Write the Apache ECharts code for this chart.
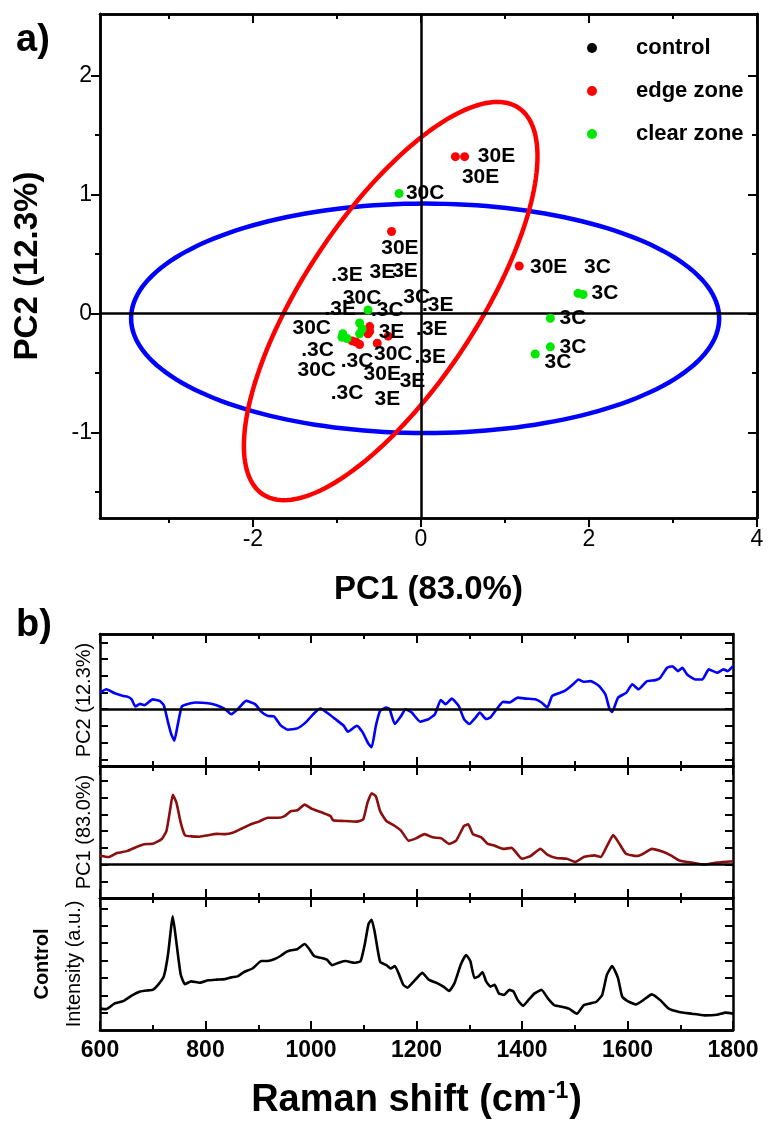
<!DOCTYPE html>
<html>
<head>
<meta charset="utf-8">
<script src="https://cdn.jsdelivr.net/npm/echarts@6/dist/echarts.min.js"></script>
<style>
  html, body { margin: 0; padding: 0; background: #fff; }
  #main { width: 768px; height: 1135px; }
</style>
</head>
<body>
<div id="main"></div>
<script>
// ---- a) PCA scores ----
var pcaRangeX = [-3.82, 4.0];
var pcaRangeY = [-1.72, 2.52];
var pcaTicksX = [-2, 0, 2, 4];
var pcaMinorX = [-3, -1, 1, 3];
var pcaTicksY = [-1, 0, 1, 2];
var pcaMinorY = [-1.5, -0.5, 0.5, 1.5];

var controlPts = [];
var edgeZone = [[0.41, 1.32], [0.52, 1.32], [-0.35, 0.69], [1.17, 0.40], [-0.61, -0.11], [-0.61, -0.15],
  [-0.39, -0.19], [-0.52, -0.25], [-0.82, -0.23], [-0.77, -0.24], [-0.73, -0.26], [-0.63, -0.17]];
var clearZone = [[-0.26, 1.01], [1.87, 0.17], [1.93, 0.16], [1.54, -0.04], [1.54, -0.28], [1.36, -0.34],
  [-0.63, 0.03], [-0.73, -0.08], [-0.70, -0.13], [-0.93, -0.17], [-0.94, -0.20], [-0.88, -0.21], [-0.73, -0.17]];

// sample labels: [pc1, pc2, text]
var pointLabels = [
  [0.90, 1.32, '30E'], [0.71, 1.15, '30E'], [0.05, 1.01, '30C'], [-0.25, 0.55, '30E'], [1.52, 0.39, '30E'],
  [2.10, 0.39, '3C'], [2.19, 0.17, '3C'], [1.81, -0.04, '3C'], [1.81, -0.28, '3C'], [1.63, -0.41, '3C'],
  [-0.88, 0.32, '.3E'], [-0.46, 0.35, '3E'], [-0.19, 0.36, '3E'], [-0.70, 0.13, '30C'], [-0.05, 0.135, '3C'],
  [0.20, 0.07, '.3E'], [-0.96, 0.04, '.3E'], [-0.40, 0.03, '.3C'], [-1.30, -0.12, '30C'], [-0.35, -0.16, '3E'],
  [0.13, -0.13, '.3E'], [-1.23, -0.31, '.3C'], [-0.76, -0.40, '.3C'], [-0.33, -0.34, '30C'], [0.11, -0.37, '.3E'],
  [-1.24, -0.48, '30C'], [-0.46, -0.51, '30E'], [-0.10, -0.57, '3E'], [-0.88, -0.67, '.3C'], [-0.40, -0.72, '3E']
];

// confidence ellipses: [cx, cy, ux, uy, vx, vy] (centre + two conjugate semi-diameters)
var blueEllipse = [0.05, -0.04, 3.5, 0, 0, 0.965];
var redEllipse = [-0.36, 0.105, 1.2, 0, 1.27, 1.675];

// ---- b) loadings and control spectrum (Raman shift, arbitrary units) ----
var ramanRange = [600, 1800];
var ramanTicks = [600, 800, 1000, 1200, 1400, 1600, 1800];
var ramanMinor = [700, 900, 1100, 1300, 1500, 1700];

var pc2Loading = [[600, 0.99], [612, 1.19], [628, 0.95], [644, 0.79], [652, 0.75], [660, 0.59], [667, 0.16],
  [676, 0.32], [684, 0.24], [700, 0.59], [713, 0.5], [721, 0.24], [729, -0.79], [735, -1.49], [741, -1.88],
  [747, -0.99], [755, 0.16], [765, 0.30], [781, 0.40], [805, 0.36], [821, 0.24], [837, 0], [849, -0.30],
  [861, 0], [877, 0.5], [894, 0.30], [906, -0.16], [918, -0.40], [930, -0.44], [942, -0.95], [956, -1.23],
  [974, -1.15], [990, -0.79], [1006, -0.24], [1018, 0.04], [1030, -0.20], [1046, -0.59], [1062, -0.99],
  [1070, -1.35], [1087, -0.99], [1098, -1.39], [1109, -2.08], [1115, -2.28], [1123, -0.99], [1131, -0.1],
  [1143, 0.1], [1149, 0], [1159, -0.89], [1171, -0.40], [1179, 0], [1191, -0.2], [1207, -0.75], [1223, -0.59],
  [1235, -0.30], [1246, 0.55], [1255, 0.30], [1267, 0.63], [1280, 0.20], [1290, -0.59], [1300, -0.89],
  [1312, -0.50], [1320, -0.20], [1332, -0.59], [1340, -0.5], [1352, 0], [1364, 0.44], [1376, 0.40],
  [1392, 0.69], [1409, 0.63], [1425, 0.59], [1437, 0.40], [1448, 0.1], [1457, 0.79], [1469, 0.95],
  [1481, 1.09], [1497, 1.49], [1507, 1.78], [1517, 1.64], [1530, 1.68], [1546, 1.39], [1558, 0.89],
  [1566, 0], [1571, -0.16], [1582, 0.69], [1598, 0.99], [1609, 1.49], [1621, 1.19], [1637, 1.68],
  [1653, 1.74], [1662, 1.88], [1675, 2.48], [1685, 2.57], [1696, 2.28], [1704, 2.48], [1713, 2.08],
  [1729, 1.78], [1742, 1.78], [1754, 2.38], [1770, 2.18], [1782, 2.38], [1790, 2.28], [1800, 2.57]];

var pc1Loading = [[600, 0.55], [616, 0.45], [632, 0.69], [652, 0.82], [668, 1.04], [684, 1.22], [700, 1.24],
  [717, 1.53], [726, 2.02], [733, 3.29], [738, 4.18], [745, 3.69], [753, 2.51], [761, 1.76], [773, 1.69],
  [789, 1.67], [805, 1.76], [821, 1.84], [837, 1.82], [853, 1.92], [869, 2.16], [886, 2.41], [901, 2.57],
  [918, 2.80], [938, 2.80], [950, 2.90], [962, 3.20], [974, 3.25], [988, 3.59], [1002, 3.33], [1022, 3.10],
  [1037, 2.90], [1042, 2.65], [1062, 2.61], [1087, 2.57], [1099, 2.71], [1107, 3.69], [1115, 4.27],
  [1123, 4.08], [1131, 3.20], [1143, 2.61], [1159, 2.31], [1171, 2.02], [1185, 1.43], [1199, 1.57],
  [1215, 1.82], [1231, 1.63], [1247, 1.57], [1262, 1.24], [1275, 1.43], [1290, 2.31], [1298, 2.41],
  [1307, 1.82], [1323, 1.63], [1335, 1.24], [1347, 1.14], [1364, 0.94], [1380, 1.00], [1400, 0.35],
  [1416, 0.51], [1435, 0.94], [1448, 0.59], [1465, 0.39], [1485, 0.35], [1501, 0.16], [1517, 0.45],
  [1537, 0.55], [1549, 0.45], [1561, 1.10], [1573, 1.76], [1583, 1.33], [1597, 0.65], [1618, 0.51],
  [1630, 0.65], [1646, 0.94], [1666, 0.78], [1682, 0.55], [1698, 0.25], [1722, 0.12], [1746, 0],
  [1770, 0.12], [1800, 0.20]];

var controlSpectrum = [[600, 1.23], [612, 1.20], [628, 1.53], [644, 1.66], [660, 1.98], [676, 2.21],
  [692, 2.28], [700, 2.31], [710, 2.60], [721, 3.09], [729, 4.36], [738, 6.55], [745, 5.0], [753, 3.19],
  [761, 2.64], [773, 2.80], [789, 2.72], [805, 2.86], [821, 2.90], [837, 2.93], [849, 3.03], [861, 3.09],
  [873, 3.34], [889, 3.54], [906, 3.97], [918, 3.97], [930, 4.07], [942, 4.26], [954, 4.51], [962, 4.59],
  [974, 4.65], [988, 4.95], [997, 4.65], [1006, 4.26], [1018, 4.16], [1030, 4.05], [1040, 3.73],
  [1054, 3.89], [1066, 3.97], [1082, 3.87], [1094, 3.97], [1102, 4.95], [1109, 6.1], [1115, 6.35],
  [1121, 5.6], [1131, 3.93], [1143, 3.73], [1151, 3.54], [1159, 3.68], [1167, 3.19], [1175, 2.60],
  [1183, 2.44], [1195, 2.80], [1211, 3.29], [1223, 2.90], [1239, 2.70], [1251, 2.50], [1262, 2.25],
  [1272, 2.70], [1284, 3.77], [1294, 4.32], [1302, 3.97], [1310, 2.99], [1318, 3.09], [1325, 3.34],
  [1332, 2.80], [1340, 2.50], [1348, 2.60], [1356, 2.11], [1366, 2.02], [1376, 2.31], [1384, 2.21],
  [1392, 1.72], [1402, 1.39], [1412, 1.72], [1424, 2.11], [1437, 2.31], [1449, 1.82], [1461, 1.43],
  [1477, 1.33], [1489, 1.23], [1504, 0.94], [1517, 1.43], [1529, 1.53], [1541, 1.63], [1552, 2.02],
  [1561, 3.19], [1571, 3.68], [1582, 2.99], [1590, 1.92], [1602, 1.63], [1616, 1.47], [1630, 1.72],
  [1646, 2.05], [1662, 1.72], [1678, 1.23], [1698, 1.04], [1722, 0.94], [1746, 0.84], [1770, 0.88],
  [1786, 1.00], [1800, 0.94]];

var pc2Range = [-3.4, 4.5];
var pc2Ticks = [-3, -2, -1, 0, 1, 2, 3, 4];
var pc1Range = [-2.0, 5.9];
var pc1Ticks = [-1, 0, 1, 2, 3, 4, 5];
var ctrlRange = [0, 7.6];
var ctrlTicks = [1, 2, 3, 4, 5, 6, 7];

var FONT = "'Liberation Sans', Arial, Helvetica, sans-serif";
var mychart = echarts.init(document.getElementById('main'));

var xAxes = [];
var yAxes = [];

// one frame side with its own tick set
function frameAxis(list, grid, pos, range, ticks, len, inside, extra) {
  var ax = {
    type: 'value', gridIndex: grid, position: pos,
    min: range[0], max: range[1],
    axisLine: { show: true, onZero: false, lineStyle: { color: '#000', width: 2.5 } },
    axisTick: { show: true, inside: inside, length: len, customValues: ticks, lineStyle: { color: '#000', width: 2 } },
    axisLabel: { show: false },
    splitLine: { show: false }
  };
  if (extra) Object.assign(ax, extra);
  list.push(ax);
  return list.length - 1;
}

// grid 0: scores
var xa = frameAxis(xAxes, 0, 'bottom', pcaRangeX, pcaTicksX, 9, false, {
  axisLabel: { show: true, customValues: pcaTicksX, fontFamily: FONT, fontSize: 23, color: '#000', margin: 10 },
  name: 'PC1 (83.0%)', nameLocation: 'middle', nameGap: 55,
  nameTextStyle: { fontFamily: FONT, fontSize: 33, fontWeight: 'bold', color: '#000' }
});
frameAxis(xAxes, 0, 'bottom', pcaRangeX, pcaMinorX, 5, false);
frameAxis(xAxes, 0, 'top', pcaRangeX, pcaTicksX, 9, true);
frameAxis(xAxes, 0, 'top', pcaRangeX, pcaMinorX, 5, true);
var ya = frameAxis(yAxes, 0, 'left', pcaRangeY, pcaTicksY, 9, false, {
  axisLabel: { show: true, customValues: pcaTicksY, fontFamily: FONT, fontSize: 23, color: '#000', margin: 8 },
  name: 'PC2 (12.3%)', nameLocation: 'middle', nameGap: 56, nameRotate: 90,
  nameTextStyle: { fontFamily: FONT, fontSize: 33, fontWeight: 'bold', color: '#000' }
});
frameAxis(yAxes, 0, 'left', pcaRangeY, pcaMinorY, 5, false);
frameAxis(yAxes, 0, 'right', pcaRangeY, pcaTicksY, 9, true);
frameAxis(yAxes, 0, 'right', pcaRangeY, pcaMinorY, 5, true);

// grids 1-3: stacked spectra
var panels = [
  { range: pc2Range, ticks: pc2Ticks, name: 'PC2 (12.3%)' },
  { range: pc1Range, ticks: pc1Ticks, name: 'PC1 (83.0%)' },
  { range: ctrlRange, ticks: ctrlTicks, name: '{b|Control}\n{n|Intensity (a.u.)}' }
];
var panelAxes = [];
panels.forEach(function (p, i) {
  var g = i + 1;
  var last = i === panels.length - 1;
  var xExtra = last ? {
    axisLabel: {
      show: true, customValues: ramanTicks, fontFamily: FONT, fontSize: 23, fontWeight: 'bold', color: '#000', margin: 9,
      formatter: function (v) { return String(v); }
    },
    name: '{t|Raman shift (cm}{s|-1}{t|)}', nameLocation: 'middle', nameGap: 50,
    nameTextStyle: {
      rich: {
        t: { fontFamily: FONT, fontSize: 38, fontWeight: 'bold', color: '#000' },
        s: { fontFamily: FONT, fontSize: 23, fontWeight: 'bold', color: '#000', verticalAlign: 'top', padding: [0, 1, 18, 1] }
      }
    }
  } : null;
  var xi = frameAxis(xAxes, g, 'bottom', ramanRange, ramanTicks, 9, true, xExtra);
  frameAxis(xAxes, g, 'bottom', ramanRange, ramanMinor, 5, true);
  frameAxis(xAxes, g, 'top', ramanRange, ramanTicks, 9, true);
  frameAxis(xAxes, g, 'top', ramanRange, ramanMinor, 5, true);
  var yi = frameAxis(yAxes, g, 'left', p.range, p.ticks, 8, true, {
    name: p.name, nameLocation: 'middle', nameRotate: 90, nameGap: last ? 10 : 6,
    nameTextStyle: {
      fontFamily: FONT, fontSize: 20, color: '#000',
      rich: {
        b: { fontFamily: FONT, fontSize: 20, fontWeight: 'bold', color: '#000', lineHeight: 32 },
        n: { fontFamily: FONT, fontSize: 20, color: '#000', lineHeight: 32 }
      }
    }
  });
  frameAxis(yAxes, g, 'right', p.range, p.ticks, 8, true);
  panelAxes.push([xi, yi]);
});

function ellipseSeries(e, color) {
  return {
    type: 'custom', xAxisIndex: xa, yAxisIndex: ya, silent: true, z: 3,
    data: [e],
    renderItem: function (params, api) {
      var pts = [];
      for (var k = 0; k <= 180; k++) {
        var t = k / 180 * Math.PI * 2;
        var c = Math.cos(t), s = Math.sin(t);
        pts.push(api.coord([api.value(0) + api.value(2) * c + api.value(4) * s,
                            api.value(1) + api.value(3) * c + api.value(5) * s]));
      }
      return { type: 'polygon', shape: { points: pts }, style: { fill: null, stroke: color, lineWidth: 4.5 } };
    }
  };
}

function spectrum(data, color, idx, zero) {
  var s = {
    type: 'line', xAxisIndex: panelAxes[idx][0], yAxisIndex: panelAxes[idx][1],
    data: data, showSymbol: false, smooth: 0.15,
    lineStyle: { color: color, width: 2.6 }, z: 4
  };
  if (zero) {
    s.markLine = {
      silent: true, symbol: ['none', 'none'], label: { show: false },
      lineStyle: { color: '#000', width: 2.5, type: 'solid' },
      data: [{ yAxis: 0 }]
    };
  }
  return s;
}

var option = {
  animation: false,
  backgroundColor: '#fff',
  grid: [
    { left: 100, top: 14, width: 657, height: 504 },
    { left: 100, top: 634, width: 633, height: 132 },
    { left: 100, top: 766, width: 633, height: 132 },
    { left: 100, top: 898, width: 633, height: 132 }
  ],
  xAxis: xAxes,
  yAxis: yAxes,
  legend: {
    data: ['control', 'edge zone', 'clear zone'],
    orient: 'vertical', left: 582, top: 31,
    icon: 'circle', itemWidth: 10, itemHeight: 10, itemGap: 19,
    selectedMode: false,
    textStyle: { fontFamily: FONT, fontSize: 22, fontWeight: 'bold', color: '#000', lineHeight: 24, padding: [0, 0, 0, 34] }
  },
  graphic: [
    { type: 'text', left: 16, top: 22, style: { text: 'a)', font: 'bold 38px ' + FONT, fill: '#000' } },
    { type: 'text', left: 16, top: 607, style: { text: 'b)', font: 'bold 38px ' + FONT, fill: '#000' } }
  ],
  series: [
    ellipseSeries(blueEllipse, '#0000ff'),
    ellipseSeries(redEllipse, '#ff0000'),
    {
      name: 'control', type: 'scatter', xAxisIndex: xa, yAxisIndex: ya,
      data: controlPts, symbolSize: 9, itemStyle: { color: '#000', opacity: 1 }
    },
    {
      name: 'edge zone', type: 'scatter', xAxisIndex: xa, yAxisIndex: ya,
      data: edgeZone, symbolSize: 9, itemStyle: { color: '#ff0000', opacity: 1 }, z: 5,
      markLine: {
        silent: true, symbol: ['none', 'none'], label: { show: false },
        lineStyle: { color: '#000', width: 2.5, type: 'solid' },
        data: [{ xAxis: 0 }, { yAxis: 0 }]
      }
    },
    {
      name: 'clear zone', type: 'scatter', xAxisIndex: xa, yAxisIndex: ya,
      data: clearZone, symbolSize: 9, itemStyle: { color: '#00e800', opacity: 1 }, z: 5
    },
    {
      type: 'scatter', xAxisIndex: xa, yAxisIndex: ya, silent: true, z: 6,
      data: pointLabels, symbolSize: 1, itemStyle: { color: 'transparent', opacity: 1 },
      label: {
        show: true, position: 'inside',
        formatter: function (p) { return p.value[2]; },
        fontFamily: FONT, fontSize: 21, fontWeight: 'bold', color: '#000', opacity: 1
      }
    },
    spectrum(pc2Loading, '#0000ff', 0, true),
    spectrum(pc1Loading, '#8b0f0f', 1, true),
    spectrum(controlSpectrum, '#000', 2, false)
  ]
};

mychart.setOption(option);
</script>
</body>
</html>
